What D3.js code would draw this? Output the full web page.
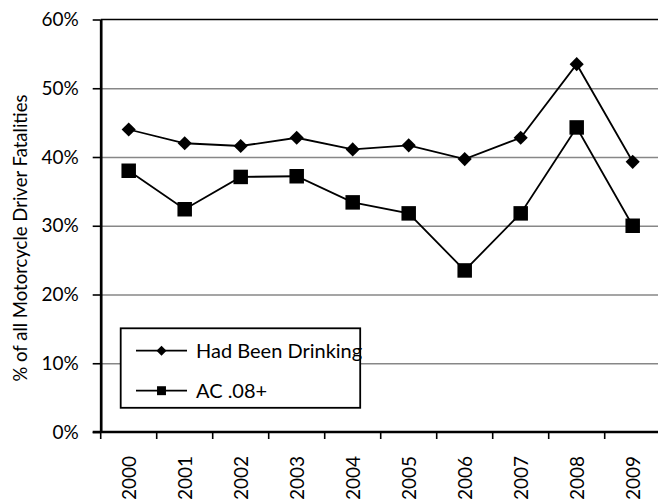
<!DOCTYPE html>
<html>
<head>
<meta charset="utf-8">
<script src="https://cdn.jsdelivr.net/npm/d3@7/dist/d3.min.js"></script>
<style>
  body { margin: 0; background: #fff; }
  svg { display: block; font-family: Lato, "Open Sans", sans-serif; }
</style>
</head>
<body>
<svg width="658" height="504"></svg>
<script>
var years = ["2000","2001","2002","2003","2004","2005","2006","2007","2008","2009"];
var hadBeenDrinking = [0.440, 0.420, 0.416, 0.428, 0.411, 0.417, 0.397, 0.428, 0.535, 0.393];
var ac08 = [0.380, 0.324, 0.371, 0.372, 0.334, 0.318, 0.235, 0.318, 0.443, 0.300];
var yTicks = [0, 0.1, 0.2, 0.3, 0.4, 0.5, 0.6];
var seriesNames = ["Had Been Drinking", "AC .08+"];

var svg = d3.select("svg"),
    plotLeft = 100.7, plotRight = 660.7,
    plotTop = 19.5, plotBottom = 432;

var x = d3.scaleBand().domain(years).range([plotLeft, plotRight]);
var y = d3.scaleLinear().domain([0, 0.6]).range([plotBottom, plotTop]);

function cx(i) { return x(years[i]) + x.bandwidth() / 2; }

// gridlines
svg.append("g")
    .attr("transform", "translate(" + plotLeft + ",0)")
    .call(d3.axisLeft(y).tickValues(yTicks.slice(1, 6)).tickSize(-(plotRight - plotLeft)).tickFormat(""))
    .call(function(g) {
        g.select(".domain").remove();
        g.selectAll("line").attr("stroke", "#878787").attr("stroke-width", 1.6);
    });

// top border of plot area
svg.append("line")
    .attr("x1", plotLeft).attr("x2", plotRight)
    .attr("y1", y(0.6)).attr("y2", y(0.6))
    .attr("stroke", "#000").attr("stroke-width", 1.6);

// y axis
svg.append("g")
    .attr("transform", "translate(" + plotLeft + ",0)")
    .call(d3.axisLeft(y).tickValues(yTicks).tickSize(8).tickSizeOuter(0).tickPadding(14).tickFormat(d3.format(".0%")))
    .call(function(g) {
        g.select(".domain").attr("stroke", "#000").attr("stroke-width", 2.7);
        g.selectAll(".tick line").attr("stroke", "#000").attr("stroke-width", 1.6);
        g.selectAll("text").attr("font-size", 19).attr("fill", "#000").attr("font-family", "Lato");
    });

// x axis: ticks between categories
var xAxis = svg.append("g").attr("transform", "translate(0," + plotBottom + ")");
xAxis.append("line")
    .attr("x1", plotLeft - 8).attr("x2", plotRight)
    .attr("stroke", "#000").attr("stroke-width", 2.7);
xAxis.selectAll(".xtick")
    .data(years)
    .enter().append("line")
    .attr("class", "xtick")
    .attr("x1", function(d) { return x(d); })
    .attr("x2", function(d) { return x(d); })
    .attr("y1", 0).attr("y2", 7)
    .attr("stroke", "#000").attr("stroke-width", 1.6);
xAxis.selectAll(".xlabel")
    .data(years)
    .enter().append("text")
    .attr("class", "xlabel")
    .attr("transform", function(d) { return "translate(" + (x(d) + x.bandwidth() / 2 + 7) + ",24) rotate(-90)"; })
    .attr("text-anchor", "end")
    .attr("font-size", 19)
    .text(function(d) { return d; });

// y axis title
svg.append("text")
    .attr("transform", "translate(27,238) rotate(-90)")
    .attr("text-anchor", "middle")
    .attr("font-size", 18.5)
    .text("% of all Motorcycle Driver Fatalities");

// series
var line = d3.line()
    .x(function(d, i) { return cx(i); })
    .y(function(d) { return y(d); });

svg.append("path").datum(hadBeenDrinking)
    .attr("d", line).attr("fill", "none").attr("stroke", "#000").attr("stroke-width", 1.8);
svg.append("path").datum(ac08)
    .attr("d", line).attr("fill", "none").attr("stroke", "#000").attr("stroke-width", 1.8);

svg.selectAll(".dia")
    .data(hadBeenDrinking)
    .enter().append("path")
    .attr("class", "dia")
    .attr("d", d3.symbol().type(d3.symbolSquare).size(100)())
    .attr("transform", function(d, i) { return "translate(" + cx(i) + "," + y(d) + ") rotate(45)"; })
    .attr("fill", "#000");

svg.selectAll(".sq")
    .data(ac08)
    .enter().append("path")
    .attr("class", "sq")
    .attr("d", d3.symbol().type(d3.symbolSquare).size(210)())
    .attr("transform", function(d, i) { return "translate(" + cx(i) + "," + y(d) + ")"; })
    .attr("fill", "#000");

// legend
var legend = svg.append("g");
legend.append("rect")
    .attr("x", 120.7).attr("y", 328.3)
    .attr("width", 239.5).attr("height", 79.5)
    .attr("fill", "#fff").attr("stroke", "#000").attr("stroke-width", 1.8);

var rows = legend.selectAll(".row")
    .data(seriesNames)
    .enter().append("g")
    .attr("transform", function(d, i) { return "translate(0," + (350.7 + i * 40) + ")"; });
rows.append("line")
    .attr("x1", 136).attr("x2", 187)
    .attr("stroke", "#000").attr("stroke-width", 1.8);
rows.append("path")
    .attr("d", function(d, i) { return d3.symbol().type(d3.symbolSquare).size(i === 0 ? 50 : 80)(); })
    .attr("transform", function(d, i) { return "translate(161.5,0)" + (i === 0 ? " rotate(45)" : ""); })
    .attr("fill", "#000");
rows.append("text")
    .attr("x", 196)
    .attr("dy", "0.35em")
    .attr("font-size", 20)
    .text(function(d) { return d; });
</script>
</body>
</html>
